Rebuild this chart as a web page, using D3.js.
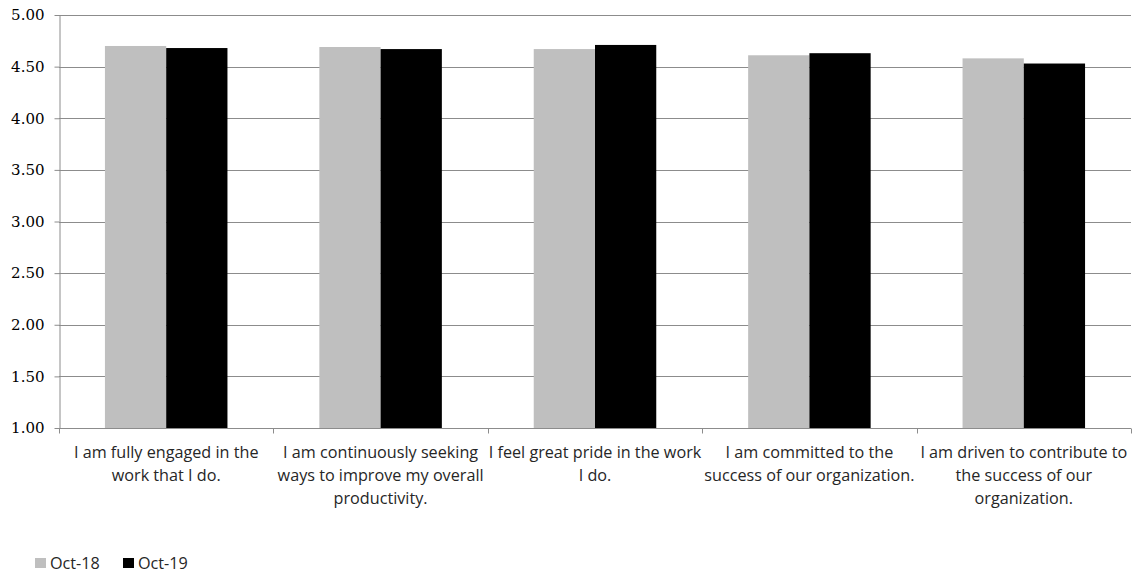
<!DOCTYPE html>
<html>
<head>
<meta charset="utf-8">
<script src="https://cdn.jsdelivr.net/npm/d3@7"></script>
<style>
  html, body { margin: 0; padding: 0; background: #fff; }
  svg { display: block; }
</style>
</head>
<body>
<svg id="chart" width="1135" height="573"></svg>
<script>
// Survey statements (category axis)
const categories = [
  "I am fully engaged in the work that I do.",
  "I am continuously seeking ways to improve my overall productivity.",
  "I feel great pride in the work I do.",
  "I am committed to the success of our organization.",
  "I am driven to contribute to the success of our organization."
];
// Label line breaks as they appear under each category
const categoryLines = [
  ["I am fully engaged in the", "work that I do."],
  ["I am continuously seeking", "ways to improve my overall", "productivity."],
  ["I feel great pride in the work", "I do."],
  ["I am committed to the", "success of our organization."],
  ["I am driven to contribute to", "the success of our", "organization."]
];
const seriesNames = ["Oct-18", "Oct-19"];
const oct18 = [4.70, 4.69, 4.67, 4.61, 4.58];
const oct19 = [4.68, 4.67, 4.71, 4.63, 4.53];
const yTicks = [1.00, 1.50, 2.00, 2.50, 3.00, 3.50, 4.00, 4.50, 5.00];
const colors = ["#bfbfbf", "#000000"];

const svg = d3.select("#chart");
const margin = { left: 59, right: 4, top: 15, bottom: 145 };
const W = 1135, H = 573;
const plotW = W - margin.left - margin.right;
const plotH = H - margin.top - margin.bottom;

const g = svg.append("g").attr("transform", `translate(${margin.left},${margin.top})`);

const x0 = d3.scaleBand().domain(categories).range([0, plotW]).paddingInner(0).paddingOuter(0);
// inner scale for the two series inside each category: gap = 1.5 x bar width
const x1 = d3.scaleBand().domain(seriesNames)
  .range([x0.bandwidth() * 0.75 / 3.5, x0.bandwidth() - x0.bandwidth() * 0.75 / 3.5])
  .padding(0);
const y = d3.scaleLinear().domain([1, 5]).range([plotH, 0]);

// horizontal gridlines
g.append("g").selectAll("line").data(yTicks.filter(t => t > 1)).join("line")
  .attr("x1", 0).attr("x2", plotW)
  .attr("y1", d => Math.round(y(d)) + 0.5).attr("y2", d => Math.round(y(d)) + 0.5)
  .attr("stroke", "#8c8c8c").attr("stroke-width", 1);

// bars
const rows = categories.map((c, i) => ({ c, vals: [oct18[i], oct19[i]] }));
const grp = g.append("g").selectAll("g").data(rows).join("g")
  .attr("transform", d => `translate(${x0(d.c)},0)`);
grp.selectAll("rect").data(d => d.vals.map((v, k) => ({ v, k })))
  .join("rect")
  .attr("x", d => x1(seriesNames[d.k]))
  .attr("width", x1.bandwidth())
  .attr("y", d => y(d.v))
  .attr("height", d => y(1) - y(d.v))
  .attr("fill", d => colors[d.k]);

// y axis
const yAxis = g.append("g").attr("transform", "translate(0.5,0)")
  .call(d3.axisLeft(y).tickValues(yTicks).tickFormat(d3.format(".2f")).tickSize(5).tickSizeOuter(0));
yAxis.select(".domain").attr("stroke", "#8c8c8c");
yAxis.selectAll(".tick line").attr("stroke", "#8c8c8c");
yAxis.selectAll(".tick text")
  .attr("x", -15)
  .attr("font-family", "'DejaVu Serif', serif")
  .attr("font-size", 15)
  .attr("fill", "#000");

// x axis: ticks at category boundaries
const xAxisG = g.append("g").attr("transform", `translate(0,${Math.round(plotH) + 0.5})`);
xAxisG.append("line").attr("x1", 0).attr("x2", plotW).attr("stroke", "#8c8c8c");
const bounds = categories.map(c => x0(c)).concat([plotW]);
xAxisG.selectAll("line.tk").data(bounds).join("line").attr("class", "tk")
  .attr("x1", d => Math.round(d) + 0.5).attr("x2", d => Math.round(d) + 0.5)
  .attr("y1", 0).attr("y2", 5).attr("stroke", "#8c8c8c");

// category labels
const labels = xAxisG.selectAll("text.cat").data(categories).join("text").attr("class", "cat")
  .attr("text-anchor", "middle")
  .attr("font-family", "'Open Sans', sans-serif")
  .attr("font-size", 16.2)
  .attr("fill", "#262626");
labels.each(function (c, i) {
  const t = d3.select(this);
  categoryLines[i].forEach((ln, j) => {
    t.append("tspan").attr("x", x0(c) + x0.bandwidth() / 2).attr("y", 29.5 + j * 23).text(ln);
  });
});

// legend
const legend = svg.append("g").attr("transform", "translate(35,558)");
const legendX = [0, 88];
seriesNames.forEach((s, i) => {
  const lg = legend.append("g").attr("transform", `translate(${legendX[i]},0)`);
  lg.append("rect").attr("x", 0).attr("y", 0).attr("width", 11).attr("height", 10).attr("fill", colors[i]);
  lg.append("text").attr("x", 15).attr("y", 11)
    .attr("font-family", "'Open Sans', sans-serif").attr("font-size", 16.2).attr("fill", "#262626")
    .text(s);
});
</script>
</body>
</html>
